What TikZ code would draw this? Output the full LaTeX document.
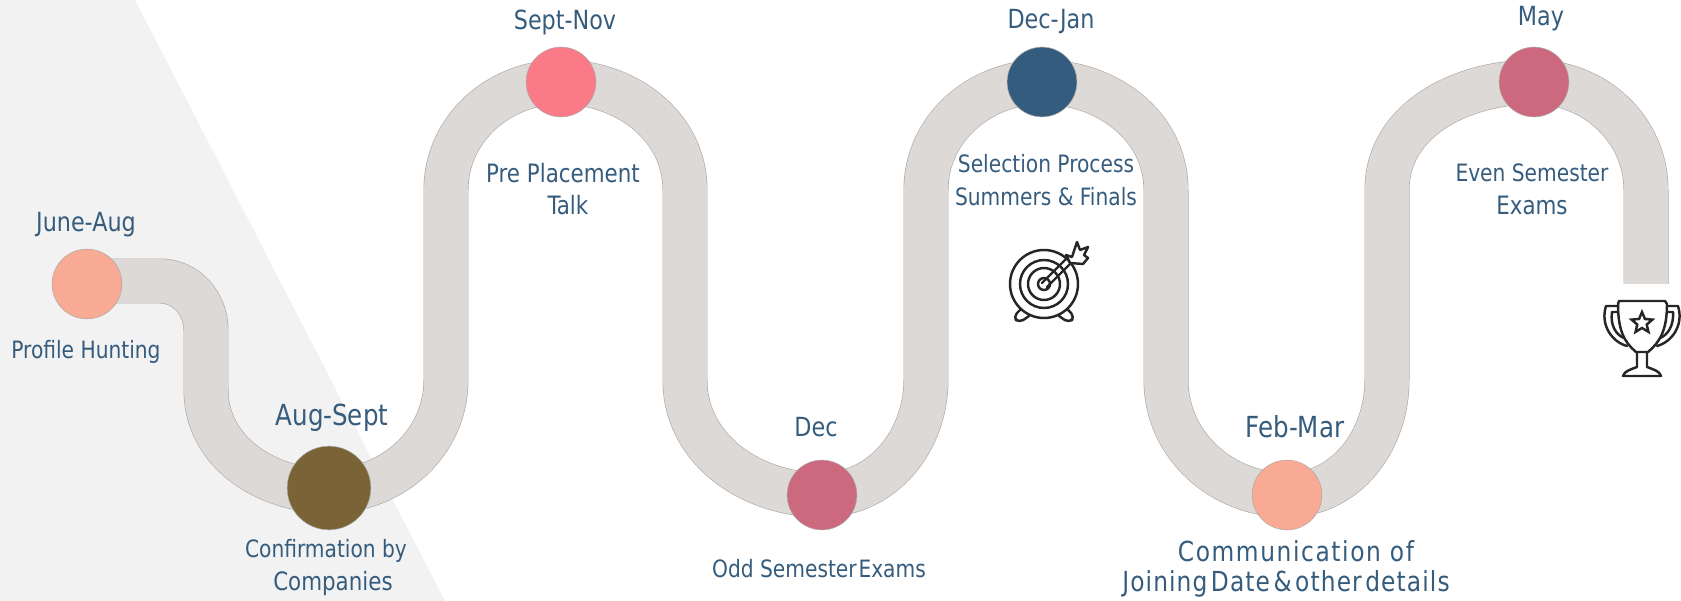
\documentclass[tikz,border=0pt]{standalone}
\usepackage{fontspec}
\setmainfont[FakeStretch=0.94]{DejaVu Sans Condensed}
\usepackage{xcolor}
\usetikzlibrary{backgrounds}
\usetikzlibrary{shapes.geometric}
\definecolor{inktext}{HTML}{355C7D}
\definecolor{greyarea}{HTML}{F2F2F2}
\definecolor{roadfill}{HTML}{DDD9D7}
\definecolor{roadedge}{HTML}{ADA8A6}
\definecolor{peach}{HTML}{F8AA94}
\definecolor{olive}{HTML}{7A6337}
\definecolor{coral}{HTML}{FA7A87}
\definecolor{navy}{HTML}{335C7E}
\definecolor{rose}{HTML}{CD697F}
\definecolor{icon}{HTML}{262626}
\tikzset{
  stop/.style={circle, draw=roadedge, line width=0.3pt, inner sep=0pt, minimum size=#1},
  stop/.default=39.7pt,
  when/.style={text=inktext, inner sep=0pt, align=center, font=\fontsize{15}{18}\selectfont},
  what/.style={text=inktext, inner sep=0pt, align=center, font=\fontsize{13.6}{18.6}\selectfont},
  big/.style={text=inktext, inner sep=0pt, font=\fontsize{14.4}{18}\selectfont},
  wide/.style={text=inktext, inner sep=0pt, font=\fontsize{15.7}{18}\selectfont\addfontfeature{LetterSpace=#1}},
  road/.style={line width=25.6pt, draw=roadedge, line join=round,
    postaction={draw=roadfill, line width=24.9pt}},
  iconline/.style={draw=icon, line width=1.4pt, line cap=round, line join=round},
}
\begin{document}
\begin{tikzpicture}[x=0.02cm, y=-0.02cm]
  \useasboundingbox (0,0) rectangle (1681,601);

  \node[stop, fill=peach] (hunt) at (87,284) {};
  \node[stop=47.6pt, fill=olive] (confirm) at (329,488) {};
  \node[stop, fill=coral] (talk) at (561,82) {};
  \node[stop, fill=rose] (odd) at (822,495) {};
  \node[stop, fill=navy] (select) at (1042,82) {};
  \node[stop, fill=peach] (joining) at (1287,495) {};
  \node[stop, fill=rose] (even) at (1534,82) {};

  \coordinate (a0) at (87,281);
  \coordinate (a1) at (160,281);
  \coordinate (a2) at (206,330);
  \coordinate (a3) at (206,390);
  \coordinate (b0) at (329,491);
  \coordinate (b1) at (446,380);
  \coordinate (b2) at (446,190);
  \coordinate (c1) at (685,190);
  \coordinate (c2) at (685,380);
  \coordinate (d1) at (926,380);
  \coordinate (d2) at (926,190);
  \coordinate (e1) at (1166,190);
  \coordinate (e2) at (1166,380);
  \coordinate (f1) at (1387,380);
  \coordinate (f2) at (1387,190);
  \coordinate (g1) at (1646,190);
  \coordinate (g2) at (1646,284);

  \begin{scope}[on background layer]
    \fill[greyarea] (0,0) -- (135,0) -- (445,601) -- (0,601) -- cycle;
    \draw[road] (a0) -- (a1) to[out=0, in=90] (a2) -- (a3)
      to[out=-90, in=180] (b0) to[out=0, in=-90] (b1) -- (b2)
      to[out=90, in=180] (talk.center) to[out=0, in=90] (c1) -- (c2)
      to[out=-90, in=180] (odd.center) to[out=0, in=-90] (d1) -- (d2)
      to[out=90, in=180] (select.center) to[out=0, in=90] (e1) -- (e2)
      to[out=-90, in=180] (joining.center) to[out=0, in=-90] (f1) -- (f2)
      to[out=90, in=180] (even.center) to[out=0, in=90] (g1) -- (g2);
  \end{scope}

  \node[when] (t1) at (86,225) {June-Aug};
  \node[what] (l1) at (86,352) {Profile Hunting};
  \node[when, font=\fontsize{16.5}{18}\selectfont] (t2) at (332,418) {Aug-Sept};
  \node[what] (l2a) at (326,551) {Confirmation by};
  \node[big] (l2b) at (333,584) {Companies};
  \node[when] (t3) at (565,22) {Sept-Nov};
  \node[big] (l3a) at (563,173) {Pre Placement};
  \node[big] (l3b) at (568,205) {Talk};
  \node[when] (t4) at (816,427) {Dec};
  \node[what] (l4) at (819,569) {Odd Semester\hspace{1pt}Exams};
  \node[when] (t5) at (1051,22) {Dec-Jan};
  \node[what] (l5) at (1046,180) {Selection Process\\Summers \& Finals};
  \node[when, font=\fontsize{16.5}{18}\selectfont] (t6) at (1295,427) {Feb-Mar};
  \node[wide=5.8] (l6a) at (1296,551) {Communication of};
  \node[wide=4] (l6b) at (1286,584) {Joining\hspace{2pt}Date\hspace{2pt}\&\hspace{2pt}other\hspace{2pt}details};
  \node[when] (t7) at (1541,19) {May};
  \node[what] (l7a) at (1532,173) {Even Semester};
  \node[big] (l7b) at (1532,205) {Exams};

  \foreach \ringr in {34,24,16,6} {
    \draw[iconline] (1044,284) circle (\ringr);
  }
  \draw[iconline] (1042,283) -- (1067,258);
  \draw[iconline] (1047,287) -- (1072,262);
  \draw[iconline, fill=white] (1066,255) -- (1072,257) -- (1077,242) -- (1080,250) -- (1088,247) -- (1084,255) -- (1088,258) -- (1083,264) -- (1070,263) -- cycle;
  \draw[iconline, rounded corners=3pt] (1020,310) -- (1013,317) -- (1019,323) -- (1029,316);
  \draw[iconline, rounded corners=3pt] (1068,310) -- (1075,317) -- (1069,323) -- (1059,316);

  \draw[iconline] (1618,304) -- (1619,301) -- (1665,301) -- (1667,304)
    .. controls (1667,330) and (1660,342) .. (1648,352) -- (1636,352)
    .. controls (1624,342) and (1618,330) .. (1618,304) -- cycle;
  \draw[iconline] (1618,306) -- (1606,306) .. controls (1600,325) and (1612,342) .. (1627,346);
  \draw[iconline] (1618,312) -- (1612,312) .. controls (1610,325) and (1616,335) .. (1624,338);
  \draw[iconline] (1667,306) -- (1678,306) .. controls (1684,325) and (1672,342) .. (1657,346);
  \draw[iconline] (1667,312) -- (1673,312) .. controls (1674,325) and (1668,335) .. (1660,338);
  \draw[iconline] (1637,353) -- (1637,367) .. controls (1632,369) and (1624,371) .. (1623,376) -- (1661,376) .. controls (1660,371) and (1652,369) .. (1647,367) -- (1647,353);
  \node[star, star points=5, draw=icon, line width=1.4pt, inner sep=0pt, minimum size=12.5pt, star point ratio=2.2] (prize) at (1642,323) {};
\end{tikzpicture}
\end{document}
